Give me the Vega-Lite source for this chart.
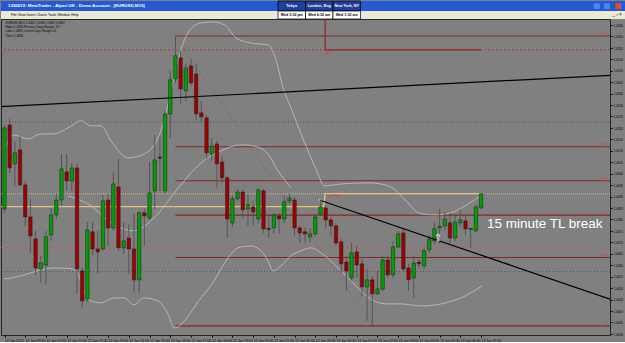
{
"$schema": "https://vega.github.io/schema/vega-lite/v6.json",
"background": "#808080",
"padding": 0,
"spacing": 0,
"bounds": "flush",
"config": {"view": {"stroke": null}, "axis": {"grid": false}, "font": "Liberation Sans", "concat": {"spacing": 0}},
"datasets": {
"titlebar": [
{"slot":"c0","kind":"title","text":"1350072: MetaTrader - Alpari UK - Demo Account - [EURUSD,M15]"},
{"slot":"c10","kind":"clock","text":"Tokyo"},
{"slot":"c11","kind":"clock","text":"London, Eng"},
{"slot":"c12","kind":"clock","text":"New York, NY"},
{"slot":"c21","kind":"btn","btn":"min","text":"■"},
{"slot":"c21","kind":"btn","btn":"max","text":"■"},
{"slot":"c21","kind":"btn","btn":"close","text":"■"}
],
"menubar": [
{"slot":"c0","kind":"menu","text":"File    View    Insert    Charts    Tools    Window    Help"},
{"slot":"c10","kind":"clock","text":"Wed 3:32 pm"},
{"slot":"c11","kind":"clock","text":"Wed 6:32 am"},
{"slot":"c12","kind":"clock","text":"Wed 1:32 am"},
{"slot":"c21","kind":"ctl","text":"_  ▫  ×"}
],
"candles": [
{"i":0,"o":1.44846,"h":1.45213,"l":1.44829,"c":1.45200},
{"i":1,"o":1.45213,"h":1.45239,"l":1.45003,"c":1.45025},
{"i":2,"o":1.45043,"h":1.45143,"l":1.44947,"c":1.45091},
{"i":3,"o":1.45104,"h":1.45165,"l":1.44942,"c":1.44951},
{"i":4,"o":1.44951,"h":1.44968,"l":1.44772,"c":1.44811},
{"i":5,"o":1.44811,"h":1.44890,"l":1.44654,"c":1.44728},
{"i":6,"o":1.44715,"h":1.44750,"l":1.44558,"c":1.44588},
{"i":7,"o":1.44584,"h":1.44641,"l":1.44523,"c":1.44610},
{"i":8,"o":1.44601,"h":1.44750,"l":1.44514,"c":1.44724},
{"i":9,"o":1.44732,"h":1.44850,"l":1.44706,"c":1.44820},
{"i":10,"o":1.44820,"h":1.44912,"l":1.44802,"c":1.44885},
{"i":11,"o":1.44885,"h":1.45086,"l":1.44859,"c":1.45021},
{"i":12,"o":1.45008,"h":1.45086,"l":1.44925,"c":1.44968},
{"i":13,"o":1.44968,"h":1.45047,"l":1.44925,"c":1.45025},
{"i":14,"o":1.45025,"h":1.45043,"l":1.44475,"c":1.44584},
{"i":15,"o":1.44575,"h":1.44588,"l":1.44413,"c":1.44444},
{"i":16,"o":1.44453,"h":1.44789,"l":1.44440,"c":1.44754},
{"i":17,"o":1.44746,"h":1.44789,"l":1.44641,"c":1.44671},
{"i":18,"o":1.44671,"h":1.44750,"l":1.44566,"c":1.44658},
{"i":19,"o":1.44671,"h":1.44907,"l":1.44663,"c":1.44881},
{"i":20,"o":1.44885,"h":1.44912,"l":1.44684,"c":1.44763},
{"i":21,"o":1.44763,"h":1.45008,"l":1.44750,"c":1.44955},
{"i":22,"o":1.44942,"h":1.45065,"l":1.44663,"c":1.44676},
{"i":23,"o":1.44676,"h":1.44785,"l":1.44649,"c":1.44706},
{"i":24,"o":1.44719,"h":1.44780,"l":1.44562,"c":1.44671},
{"i":25,"o":1.44671,"h":1.44824,"l":1.44479,"c":1.44536},
{"i":26,"o":1.44536,"h":1.44837,"l":1.44479,"c":1.44829},
{"i":27,"o":1.44829,"h":1.44846,"l":1.44684,"c":1.44815},
{"i":28,"o":1.44807,"h":1.45051,"l":1.44798,"c":1.44916},
{"i":29,"o":1.44925,"h":1.45169,"l":1.44846,"c":1.45060},
{"i":30,"o":1.45073,"h":1.45161,"l":1.44925,"c":1.45067},
{"i":31,"o":1.44925,"h":1.45274,"l":1.44912,"c":1.45261},
{"i":32,"o":1.45261,"h":1.45449,"l":1.45156,"c":1.45410},
{"i":33,"o":1.45414,"h":1.45602,"l":1.45397,"c":1.45515},
{"i":34,"o":1.45506,"h":1.45537,"l":1.45301,"c":1.45370},
{"i":35,"o":1.45362,"h":1.45480,"l":1.45318,"c":1.45462},
{"i":36,"o":1.45471,"h":1.45502,"l":1.45384,"c":1.45397},
{"i":37,"o":1.45436,"h":1.45480,"l":1.45231,"c":1.45261},
{"i":38,"o":1.45266,"h":1.45318,"l":1.45222,"c":1.45248},
{"i":39,"o":1.45244,"h":1.45257,"l":1.45065,"c":1.45091},
{"i":40,"o":1.45086,"h":1.45156,"l":1.45056,"c":1.45121},
{"i":41,"o":1.45130,"h":1.45143,"l":1.44938,"c":1.45043},
{"i":42,"o":1.45051,"h":1.45078,"l":1.44960,"c":1.44982},
{"i":43,"o":1.44982,"h":1.44990,"l":1.44719,"c":1.44802},
{"i":44,"o":1.44785,"h":1.44903,"l":1.44767,"c":1.44890},
{"i":45,"o":1.44890,"h":1.44933,"l":1.44881,"c":1.44920},
{"i":46,"o":1.44920,"h":1.44933,"l":1.44807,"c":1.44842},
{"i":47,"o":1.44846,"h":1.44912,"l":1.44772,"c":1.44864},
{"i":48,"o":1.44855,"h":1.44881,"l":1.44772,"c":1.44833},
{"i":49,"o":1.44802,"h":1.44938,"l":1.44780,"c":1.44929},
{"i":50,"o":1.44925,"h":1.44933,"l":1.44741,"c":1.44759},
{"i":51,"o":1.44761,"h":1.44824,"l":1.44719,"c":1.44756},
{"i":52,"o":1.44763,"h":1.44829,"l":1.44737,"c":1.44820},
{"i":53,"o":1.44815,"h":1.44829,"l":1.44737,"c":1.44802},
{"i":54,"o":1.44802,"h":1.44903,"l":1.44785,"c":1.44877},
{"i":55,"o":1.44881,"h":1.44912,"l":1.44868,"c":1.44894},
{"i":56,"o":1.44885,"h":1.44898,"l":1.44728,"c":1.44763},
{"i":57,"o":1.44763,"h":1.44772,"l":1.44697,"c":1.44741},
{"i":58,"o":1.44746,"h":1.44763,"l":1.44697,"c":1.44737},
{"i":59,"o":1.44724,"h":1.44763,"l":1.44697,"c":1.44737},
{"i":60,"o":1.44737,"h":1.44824,"l":1.44728,"c":1.44811},
{"i":61,"o":1.44824,"h":1.44890,"l":1.44815,"c":1.44855},
{"i":62,"o":1.44850,"h":1.44859,"l":1.44763,"c":1.44798},
{"i":63,"o":1.44798,"h":1.44811,"l":1.44732,"c":1.44772},
{"i":64,"o":1.44772,"h":1.44785,"l":1.44684,"c":1.44697},
{"i":65,"o":1.44702,"h":1.44715,"l":1.44566,"c":1.44606},
{"i":66,"o":1.44614,"h":1.44641,"l":1.44488,"c":1.44575},
{"i":67,"o":1.44545,"h":1.44697,"l":1.44531,"c":1.44654},
{"i":68,"o":1.44658,"h":1.44684,"l":1.44545,"c":1.44601},
{"i":69,"o":1.44606,"h":1.44628,"l":1.44466,"c":1.44505},
{"i":70,"o":1.44505,"h":1.44584,"l":1.44357,"c":1.44536},
{"i":71,"o":1.44536,"h":1.44553,"l":1.44335,"c":1.44475},
{"i":72,"o":1.44475,"h":1.44575,"l":1.44470,"c":1.44496},
{"i":73,"o":1.44496,"h":1.44641,"l":1.44488,"c":1.44623},
{"i":74,"o":1.44623,"h":1.44641,"l":1.44545,"c":1.44558},
{"i":75,"o":1.44558,"h":1.44706,"l":1.44545,"c":1.44680},
{"i":76,"o":1.44680,"h":1.44750,"l":1.44676,"c":1.44737},
{"i":77,"o":1.44741,"h":1.44759,"l":1.44575,"c":1.44584},
{"i":78,"o":1.44588,"h":1.44606,"l":1.44488,"c":1.44536},
{"i":79,"o":1.44545,"h":1.44641,"l":1.44457,"c":1.44610},
{"i":80,"o":1.44614,"h":1.44628,"l":1.44584,"c":1.44606},
{"i":81,"o":1.44597,"h":1.44680,"l":1.44584,"c":1.44663},
{"i":82,"o":1.44667,"h":1.44732,"l":1.44654,"c":1.44715},
{"i":83,"o":1.44706,"h":1.44785,"l":1.44693,"c":1.44759},
{"i":84,"o":1.44763,"h":1.44846,"l":1.44693,"c":1.44770},
{"i":85,"o":1.44772,"h":1.44833,"l":1.44750,"c":1.44802},
{"i":86,"o":1.44785,"h":1.44829,"l":1.44697,"c":1.44719},
{"i":87,"o":1.44719,"h":1.44820,"l":1.44706,"c":1.44789},
{"i":88,"o":1.44785,"h":1.44842,"l":1.44767,"c":1.44798},
{"i":89,"o":1.44794,"h":1.44824,"l":1.44732,"c":1.44759},
{"i":90,"o":1.44756,"h":1.44763,"l":1.44676,"c":1.44761},
{"i":91,"o":1.44750,"h":1.44864,"l":1.44746,"c":1.44855},
{"i":92,"o":1.44850,"h":1.44916,"l":1.44846,"c":1.44912}
],
"bands": [
{"b":"upper","i":-0.1,"p":1.45100},{"b":"upper","i":1.83,"p":1.45169},{"b":"upper","i":4.54,"p":1.45152},{"b":"upper","i":7.05,"p":1.45174},{"b":"upper","i":9.56,"p":1.45174},{"b":"upper","i":12.26,"p":1.45200},{"b":"upper","i":14.77,"p":1.45231},{"b":"upper","i":16.7,"p":1.45209},{"b":"upper","i":18.63,"p":1.45209},{"b":"upper","i":20.56,"p":1.45143},{"b":"upper","i":23.84,"p":1.45069},{"b":"upper","i":26.93,"p":1.45086},{"b":"upper","i":29.63,"p":1.45156},{"b":"upper","i":30.79,"p":1.45231},{"b":"upper","i":32.14,"p":1.45362},{"b":"upper","i":33.49,"p":1.45493},{"b":"upper","i":34.65,"p":1.45580},{"b":"upper","i":36.0,"p":1.45633},{"b":"upper","i":37.93,"p":1.45659},{"b":"upper","i":40.44,"p":1.45663},{"b":"upper","i":42.76,"p":1.45646},{"b":"upper","i":44.69,"p":1.45593},{"b":"upper","i":47.59,"p":1.45571},{"b":"upper","i":50.87,"p":1.45563},{"b":"upper","i":52.03,"p":1.45523},{"b":"upper","i":53.96,"p":1.45362},{"b":"upper","i":55.31,"p":1.45287},{"b":"upper","i":57.24,"p":1.45174},{"b":"upper","i":58.59,"p":1.45100},{"b":"upper","i":60.52,"p":1.45000},{"b":"upper","i":61.68,"p":1.44947},{"b":"upper","i":64.96,"p":1.44955},{"b":"upper","i":70.17,"p":1.44960},{"b":"upper","i":72.68,"p":1.44955},{"b":"upper","i":75.19,"p":1.44933},{"b":"upper","i":77.5,"p":1.44881},{"b":"upper","i":80.4,"p":1.44824},{"b":"upper","i":83.3,"p":1.44820},{"b":"upper","i":86.2,"p":1.44829},{"b":"upper","i":89.5,"p":1.44868},{"b":"upper","i":92.2,"p":1.44907},
{"b":"mid","i":12.26,"p":1.44903},{"b":"mid","i":16.7,"p":1.44859},{"b":"mid","i":20.56,"p":1.44785},{"b":"mid","i":25.0,"p":1.44750},{"b":"mid","i":28.86,"p":1.44807},{"b":"mid","i":33.1,"p":1.44925},{"b":"mid","i":37.93,"p":1.45047},{"b":"mid","i":41.8,"p":1.45100},{"b":"mid","i":45.66,"p":1.45126},{"b":"mid","i":48.17,"p":1.45121},{"b":"mid","i":50.87,"p":1.45086},{"b":"mid","i":52.8,"p":1.45012},{"b":"mid","i":55.31,"p":1.44938},
{"b":"lower","i":-0.1,"p":1.44540},{"b":"lower","i":3.19,"p":1.44553},{"b":"lower","i":5.69,"p":1.44571},{"b":"lower","i":9.56,"p":1.44588},{"b":"lower","i":13.22,"p":1.44584},{"b":"lower","i":14.19,"p":1.44562},{"b":"lower","i":15.35,"p":1.44488},{"b":"lower","i":16.7,"p":1.44444},{"b":"lower","i":18.63,"p":1.44435},{"b":"lower","i":21.14,"p":1.44457},{"b":"lower","i":23.07,"p":1.44457},{"b":"lower","i":25.0,"p":1.44427},{"b":"lower","i":26.93,"p":1.44457},{"b":"lower","i":29.63,"p":1.44444},{"b":"lower","i":31.56,"p":1.44387},{"b":"lower","i":32.72,"p":1.44326},{"b":"lower","i":37.93,"p":1.44457},{"b":"lower","i":40.44,"p":1.44531},{"b":"lower","i":43.15,"p":1.44632},{"b":"lower","i":45.08,"p":1.44676},{"b":"lower","i":47.59,"p":1.44684},{"b":"lower","i":49.52,"p":1.44663},{"b":"lower","i":50.87,"p":1.44619},{"b":"lower","i":51.83,"p":1.44575},{"b":"lower","i":53.38,"p":1.44597},{"b":"lower","i":55.31,"p":1.44641},{"b":"lower","i":57.24,"p":1.44663},{"b":"lower","i":59.17,"p":1.44676},{"b":"lower","i":61.1,"p":1.44654},{"b":"lower","i":63.61,"p":1.44606},{"b":"lower","i":66.31,"p":1.44545},{"b":"lower","i":68.82,"p":1.44488},{"b":"lower","i":71.33,"p":1.44444},{"b":"lower","i":74.03,"p":1.44431},{"b":"lower","i":76.54,"p":1.44431},{"b":"lower","i":80.4,"p":1.44422},{"b":"lower","i":88.1,"p":1.44457},{"b":"lower","i":92.2,"p":1.44510}
],
"fib": [
{"lvl":"100.0","p":1.45602},{"lvl":"61.8","p":1.45118},{"lvl":"50.0","p":1.44969},{"lvl":"38.2","p":1.44819},{"lvl":"23.6","p":1.44634},{"lvl":"0.0","p":1.44335}
]
},
"vconcat": [
{
"width": 625, "height": 10,
"view": {"fill": "#2459d3", "stroke": null},
"data": {"name": "titlebar"},
"layer": [
{"transform": [{"filter": "datum.kind == 'clock'"}],
 "mark": {"type": "rect", "fill": "#1e3f9e", "stroke": "#000000", "strokeWidth": 0.7},
 "encoding": {"x": {"field": "slot", "type": "nominal", "axis": null, "scale": {"type": "band", "domain": ["c0","c1","c2","c3","c4","c5","c6","c7","c8","c9","c10","c11","c12","c13","c14","c15","c16","c17","c18","c19","c20","c21"], "paddingInner": 0, "paddingOuter": 0.3636, "align": 0.1}}}},
{"transform": [{"filter": "datum.kind == 'clock'"}],
 "mark": {"type": "text", "fontSize": 3.8, "fontWeight": "bold", "color": "#ffffff"},
 "encoding": {"x": {"field": "slot", "type": "nominal", "bandPosition": 0.5, "axis": null}, "text": {"field": "text"}}},
{"transform": [{"filter": "datum.kind == 'title'"}],
 "mark": {"type": "text", "fontSize": 4.4, "fontWeight": "bold", "color": "#ffffff", "align": "left", "dx": 5},
 "encoding": {"x": {"field": "slot", "type": "nominal", "bandPosition": 0, "axis": null}, "text": {"field": "text"}}},
{"transform": [{"filter": "datum.btn == 'min'"}],
 "mark": {"type": "text", "fontSize": 12, "color": "#4a86f2", "dx": 16},
 "encoding": {"x": {"field": "slot", "type": "nominal", "bandPosition": 0, "axis": null}, "text": {"field": "text"}}},
{"transform": [{"filter": "datum.btn == 'max'"}],
 "mark": {"type": "text", "fontSize": 12, "color": "#4a86f2", "dx": 26},
 "encoding": {"x": {"field": "slot", "type": "nominal", "bandPosition": 0, "axis": null}, "text": {"field": "text"}}},
{"transform": [{"filter": "datum.btn == 'close'"}],
 "mark": {"type": "text", "fontSize": 12, "color": "#dc4b2a", "dx": 37},
 "encoding": {"x": {"field": "slot", "type": "nominal", "bandPosition": 0, "axis": null}, "text": {"field": "text"}}}
]
},
{
"width": 625, "height": 8,
"view": {"fill": "#ece9d8", "stroke": null},
"data": {"name": "menubar"},
"layer": [
{"transform": [{"filter": "datum.kind == 'clock'"}],
 "mark": {"type": "rect", "fill": "#ffffff", "stroke": "#000000", "strokeWidth": 0.7},
 "encoding": {"x": {"field": "slot", "type": "nominal", "axis": null, "scale": {"type": "band", "domain": ["c0","c1","c2","c3","c4","c5","c6","c7","c8","c9","c10","c11","c12","c13","c14","c15","c16","c17","c18","c19","c20","c21"], "paddingInner": 0, "paddingOuter": 0.3636, "align": 0.1}}}},
{"transform": [{"filter": "datum.kind == 'clock'"}],
 "mark": {"type": "text", "fontSize": 3.6, "fontWeight": "bold", "color": "#000000"},
 "encoding": {"x": {"field": "slot", "type": "nominal", "bandPosition": 0.5, "axis": null}, "text": {"field": "text"}}},
{"transform": [{"filter": "datum.kind == 'menu'"}],
 "mark": {"type": "text", "fontSize": 3.6, "color": "#000000", "align": "left", "dx": 8},
 "encoding": {"x": {"field": "slot", "type": "nominal", "bandPosition": 0, "axis": null}, "text": {"field": "text"}}},
{"transform": [{"filter": "datum.kind == 'ctl'"}],
 "mark": {"type": "text", "fontSize": 4.5, "color": "#000000", "align": "left", "dx": 32},
 "encoding": {"x": {"field": "slot", "type": "nominal", "bandPosition": 0, "axis": null}, "text": {"field": "text"}}}
]
},
{
"width": 609, "height": 316,
"view": {"fill": "#808080", "stroke": "#262626", "strokeWidth": 1},
"resolve": {"axis": {"x": "independent", "y": "independent"}},
"layer": [
{"data": {"values": [{"p": 1.45226}, {"p": 1.44572}]},
 "mark": {"type": "rule", "color": "#454545", "strokeDash": [1, 2], "strokeWidth": 0.8, "clip": true},
 "encoding": {"y": {"field": "p", "type": "quantitative", "axis": null}}},
{"data": {"values": [{"p": 1.45541}]},
 "mark": {"type": "rule", "color": "#a83434", "strokeDash": [2, 2], "strokeWidth": 0.8, "clip": true},
 "encoding": {"y": {"field": "p", "type": "quantitative", "axis": null}}},
{"data": {"values": [{"p": 1.44677}]},
 "mark": {"type": "rule", "color": "#b46666", "strokeWidth": 0.7, "clip": true},
 "encoding": {"y": {"field": "p", "type": "quantitative", "axis": null}}},
{"data": {"values": [{"p": 1.44912}]},
 "mark": {"type": "rule", "color": "#d8d2a0", "strokeDash": [1, 1], "strokeWidth": 0.8, "clip": true},
 "encoding": {"y": {"field": "p", "type": "quantitative", "axis": null}}},
{"data": {"name": "fib"},
 "mark": {"type": "rule", "color": "#8a2424", "strokeWidth": 1.1, "clip": true},
 "encoding": {"x": {"datum": 33, "axis": null}, "x2": {"datum": 116.89}, "y": {"field": "p", "type": "quantitative", "axis": null}}},
{"data": {"name": "fib"},
 "mark": {"type": "text", "color": "#c04848", "fontSize": 3.4, "align": "right", "baseline": "bottom", "dy": -0.5, "clip": true},
 "encoding": {"x": {"datum": 116.5, "axis": null}, "y": {"field": "p", "type": "quantitative", "axis": null}, "text": {"field": "lvl"}}},
{"data": {"values": [{"i": 33, "p": 1.45602, "i2": 71, "p2": 1.44335}]},
 "mark": {"type": "rule", "color": "#a84040", "strokeDash": [1, 2], "strokeWidth": 0.8, "clip": true},
 "encoding": {"x": {"field": "i", "type": "quantitative", "axis": null}, "y": {"field": "p", "type": "quantitative", "axis": null}, "x2": {"field": "i2"}, "y2": {"field": "p2"}}},
{"data": {"values": [{"k": 0, "i": -0.676, "p": 1.44856}, {"k": 1, "i": 61.6, "p": 1.44856}, {"k": 2, "i": 61.9, "p": 1.44913}, {"k": 3, "i": 92, "p": 1.44913}]},
 "mark": {"type": "line", "color": "#e2c27c", "strokeWidth": 1.4, "clip": true},
 "encoding": {"x": {"field": "i", "type": "quantitative", "axis": null}, "y": {"field": "p", "type": "quantitative", "axis": null}, "order": {"field": "k"}}},
{"data": {"values": [{"k": 0, "i": 61.9, "p": 1.4568}, {"k": 1, "i": 61.9, "p": 1.45541}, {"k": 2, "i": 92, "p": 1.45541}]},
 "mark": {"type": "line", "color": "#9a1e1e", "strokeWidth": 1.2, "clip": true},
 "encoding": {"x": {"field": "i", "type": "quantitative", "axis": null}, "y": {"field": "p", "type": "quantitative", "axis": null}, "order": {"field": "k"}}},
{"data": {"name": "bands"},
 "mark": {"type": "line", "color": "#c4c4c4", "strokeWidth": 0.8, "interpolate": "monotone", "clip": true},
 "encoding": {"x": {"field": "i", "type": "quantitative", "axis": null}, "y": {"field": "p", "type": "quantitative", "axis": null}, "detail": {"field": "b"}}},
{"data": {"name": "candles"},
 "mark": {"type": "rule", "color": "#4a4a4a", "strokeWidth": 0.8, "clip": true},
 "encoding": {"x": {"field": "i", "type": "quantitative", "axis": null}, "y": {"field": "l", "type": "quantitative", "axis": null}, "y2": {"field": "h"}}},
{"data": {"name": "candles"},
 "mark": {"type": "bar", "width": 3.4, "stroke": "#1c1c1c", "strokeWidth": 0.5, "clip": true},
 "encoding": {
  "x": {"field": "i", "type": "quantitative", "scale": {"domain": [-0.676, 116.89], "nice": false, "zero": false, "padding": 0},
   "axis": {"orient": "bottom", "title": null, "values": [0,4,8,12,16,20,24,28,32,36,40,44,48,52,56,60,64,68,72,76,80,84,88,92], "labelExpr": "datum.value == 0 ? '12 Jan 2010' : (12 + floor((8 + datum.value / 4) / 24)) + ' Jan ' + ((8 + datum.value / 4) % 24 < 10 ? '0' : '') + ((8 + datum.value / 4) % 24) + ':00'", "labelAlign": "left", "labelFontSize": 3.4, "labelColor": "#000000", "tickSize": 2, "tickColor": "#000000", "domain": false, "labelPadding": 1, "labelOverlap": false, "labelFlush": false}},
  "y": {"field": "o", "type": "quantitative", "scale": {"domain": [1.44295, 1.45676], "nice": false, "zero": false},
   "axis": {"orient": "right", "title": null, "values": [1.4430,1.4435,1.4440,1.4445,1.4450,1.4455,1.4460,1.4465,1.4470,1.4475,1.4480,1.4485,1.4490,1.4495,1.4500,1.4505,1.4510,1.4515,1.4520,1.4525,1.4530,1.4535,1.4540,1.4545,1.4550,1.4555,1.4560,1.4565], "format": ".4f", "labelFontSize": 3.1, "labelColor": "#000000", "tickSize": 2, "tickColor": "#000000", "domain": false, "labelPadding": 1, "labelOverlap": false, "labelFlush": false}},
  "y2": {"field": "c"},
  "fill": {"condition": {"test": "datum.c >= datum.o", "value": "#00a000"}, "value": "#a00000"}
 }},
{"data": {"values": [{"i": -0.676, "p": 1.45293, "i2": 116.89, "p2": 1.45430}, {"i": 60.9, "p": 1.44884, "i2": 116.89, "p2": 1.44452}]},
 "mark": {"type": "rule", "color": "#000000", "strokeWidth": 1.2, "clip": true},
 "encoding": {"x": {"field": "i", "type": "quantitative", "axis": null}, "y": {"field": "p", "type": "quantitative", "axis": null}, "x2": {"field": "i2"}, "y2": {"field": "p2"}}},
{"data": {"values": [{"i": 60.9, "p": 1.44884}]},
 "mark": {"type": "point", "shape": "circle", "size": 6, "stroke": "#d0d0d0", "strokeWidth": 0.7, "filled": false, "clip": true},
 "encoding": {"x": {"field": "i", "type": "quantitative", "axis": null}, "y": {"field": "p", "type": "quantitative", "axis": null}}},
{"data": {"values": [{"i": 62.1, "p": 1.44903, "t": "Pivot Point"}]},
 "mark": {"type": "text", "color": "#e02a2a", "fontSize": 3.2, "align": "left", "baseline": "middle", "clip": true},
 "encoding": {"x": {"field": "i", "type": "quantitative", "axis": null}, "y": {"field": "p", "type": "quantitative", "axis": null}, "text": {"field": "t"}}},
{"data": {"values": [{"i": 62.1, "p": 1.45523, "t": "R1"}]},
 "mark": {"type": "text", "color": "#c03a3a", "fontSize": 3.2, "align": "left", "baseline": "middle", "clip": true},
 "encoding": {"x": {"field": "i", "type": "quantitative", "axis": null}, "y": {"field": "p", "type": "quantitative", "axis": null}, "text": {"field": "t"}}},
{"data": {"values": [{"i": 0.2, "p": 1.45663, "t": ["EURUSD,M15  1.4492 1.4496 1.4492 1.4492", "Highs 1.4496    Previous Days Ranges 117", "Lows 1.4491     Current Days Ranges 41", "Close 1.4492"]}]},
 "mark": {"type": "text", "color": "#000000", "fontSize": 3, "align": "left", "baseline": "top", "lineHeight": 4.2, "clip": true},
 "encoding": {"x": {"field": "i", "type": "quantitative", "axis": null}, "y": {"field": "p", "type": "quantitative", "axis": null}, "text": {"field": "t"}}},
{"data": {"values": [{"i": 83.7, "p": 1.44719, "t": "⇧"}]},
 "mark": {"type": "text", "color": "#ffffff", "fontSize": 10, "align": "center", "baseline": "middle", "clip": true},
 "encoding": {"x": {"field": "i", "type": "quantitative", "axis": null}, "y": {"field": "p", "type": "quantitative", "axis": null}, "text": {"field": "t"}}},
{"data": {"values": [{"i": 93.15, "p": 1.44781, "t": "15 minute TL break"}]},
 "mark": {"type": "text", "color": "#ffffff", "fontSize": 13.5, "font": "Liberation Sans", "align": "left", "baseline": "middle", "clip": true},
 "encoding": {"x": {"field": "i", "type": "quantitative", "axis": null}, "y": {"field": "p", "type": "quantitative", "axis": null}, "text": {"field": "t"}}}
]
}
]
}
